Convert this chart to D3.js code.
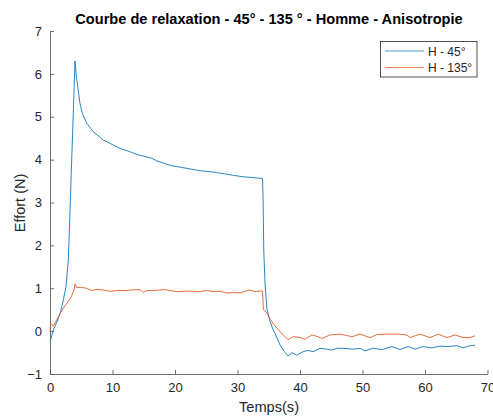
<!DOCTYPE html>
<html><head><meta charset="utf-8">
<script src="https://cdn.jsdelivr.net/npm/d3@7/dist/d3.min.js"></script>
<style>body{margin:0;background:#fff}svg{display:block}</style>
</head><body><svg id="c" width="493" height="417"></svg>
<script>
const title = "Courbe de relaxation - 45° - 135 ° - Homme - Anisotropie";
const xLabel = "Temps(s)";
const yLabel = "Effort (N)";
const seriesNames = ["H - 45°", "H - 135°"];
const xTicks = [0,10,20,30,40,50,60,70];
const yTicks = [-1,0,1,2,3,4,5,6,7];

const timeH45 = [0,0.16,0.53,1.0,1.33,1.7,2.13,2.56,2.93,3.2,3.47,3.75,4.0,4.2,4.37,4.8,5.17,5.87,6.93,8.5,10,11.2,12.5,13.9,15,16.3,17.1,18.5,19.7,21,22.9,24,25.6,27,28.3,29.5,30.9,32.5,34.0,34.1,34.2,34.4,34.7,35.2,35.7,36.0,36.8,37.5,38.1,38.7,39.5,40.5,41.3,42.1,43.2,44.2,45.1,46.0,46.9,48.4,49.6,50.4,51.7,53.1,54.7,56.0,57.3,58.4,59.7,61.1,62.4,63.7,65.1,66.1,67.2,68.0];
const effortH45 = [-0.2,-0.17,0.03,0.18,0.3,0.45,0.73,1.04,1.66,2.8,4.0,5.2,6.3,5.95,5.78,5.31,5.08,4.85,4.65,4.46,4.35,4.26,4.2,4.12,4.08,4.03,3.97,3.9,3.85,3.82,3.77,3.74,3.72,3.69,3.66,3.63,3.6,3.58,3.56,3.06,1.89,1.11,0.52,0.23,0.03,-0.05,-0.32,-0.48,-0.58,-0.5,-0.56,-0.48,-0.45,-0.48,-0.4,-0.42,-0.44,-0.4,-0.4,-0.42,-0.4,-0.46,-0.4,-0.43,-0.36,-0.43,-0.36,-0.42,-0.36,-0.39,-0.35,-0.36,-0.34,-0.39,-0.34,-0.33];

const timeH135 = [0,0.1,0.3,0.53,1.0,1.6,2.3,2.9,3.4,3.73,3.9,4.0,4.27,5.0,5.87,6.67,7.5,8.0,9.6,11,12.3,13.3,14.4,14.9,15.5,17,18.1,19.2,20.3,21.5,22.9,24,25,26.1,27.2,28.3,29.5,30.4,31.5,32,32.8,33.6,34.0,34.15,34.4,34.7,35.2,35.8,36.3,37.3,38.1,38.9,40,40.8,41.9,42.7,43.5,44.8,46.4,47.4,48.3,49.6,51.2,52.3,53.9,55.7,57.1,57.6,59.2,60.8,62.1,63.5,64.8,66.1,67.2,68.0];
const effortH135 = [-0.01,0.18,0.15,0.12,0.24,0.41,0.57,0.69,0.8,0.92,0.98,1.1,1.02,1.02,1.0,0.95,0.97,0.97,0.93,0.95,0.95,0.96,0.97,0.9,0.95,0.95,0.97,0.95,0.92,0.93,0.93,0.92,0.95,0.92,0.93,0.89,0.9,0.89,0.94,0.96,0.92,0.94,0.93,0.5,0.47,0.43,0.28,0.16,0.07,-0.09,-0.2,-0.13,-0.15,-0.19,-0.09,-0.12,-0.17,-0.09,-0.07,-0.1,-0.13,-0.07,-0.15,-0.08,-0.07,-0.07,-0.09,-0.15,-0.07,-0.15,-0.07,-0.15,-0.09,-0.15,-0.15,-0.11];

const colors = ["#0072BD", "#D95319"];

const svg = d3.select("#c");
const font = "'Liberation Sans', Arial, Helvetica, sans-serif";
const x = d3.scaleLinear().domain([0,70]).range([50,487.5]);
const y = d3.scaleLinear().domain([-1,7]).range([374,31]);
const axisColor = "#262626";

const gx = svg.append("g").attr("transform","translate(0,374)")
  .call(d3.axisBottom(x).tickValues(xTicks).tickSizeInner(-4).tickSizeOuter(0).tickPadding(9));
const gy = svg.append("g").attr("transform","translate(50,0)")
  .call(d3.axisLeft(y).tickValues(yTicks).tickSizeInner(-4).tickSizeOuter(0).tickPadding(8));
[gx,gy].forEach(g=>{
  g.selectAll("path,line").attr("stroke","#4d4d4d").attr("stroke-width",0.8);
  g.selectAll("text").attr("fill",axisColor).attr("font-family",font).attr("font-size",13);
});

const line = d3.line().x(d=>x(d[0])).y(d=>y(d[1]));
const s1 = timeH45.map((t,i)=>[t,effortH45[i]]);
const s2 = timeH135.map((t,i)=>[t,effortH135[i]]);
[s1,s2].forEach((s,i)=>{
  svg.append("path").datum(s).attr("d",line).attr("fill","none")
    .attr("stroke",colors[i]).attr("stroke-width",1).attr("stroke-opacity",0.85).attr("stroke-linejoin","round");
});

svg.append("text").attr("x",269).attr("y",24).attr("text-anchor","middle")
  .attr("font-family",font).attr("font-weight","bold").attr("font-size",14.6).attr("fill","#000").text(title);
svg.append("text").attr("x",269).attr("y",412).attr("text-anchor","middle")
  .attr("font-family",font).attr("font-size",14.6).attr("fill",axisColor).text(xLabel);
svg.append("text").attr("transform","translate(25,203) rotate(-90)").attr("text-anchor","middle")
  .attr("font-family",font).attr("font-size",14.5).attr("fill",axisColor).text(yLabel);

const lg = svg.append("g");
lg.append("rect").attr("x",380.5).attr("y",41.5).attr("width",96.5).attr("height",35.5)
  .attr("fill","#fff").attr("stroke","#262626").attr("stroke-width",0.8);
seriesNames.forEach((n,i)=>{
  const yy = 51 + i*16.5;
  lg.append("line").attr("x1",385).attr("x2",424).attr("y1",yy).attr("y2",yy)
    .attr("stroke",colors[i]).attr("stroke-width",1).attr("stroke-opacity",0.7);
  lg.append("text").attr("x",428).attr("y",yy+4.5).attr("font-family",font).attr("font-size",12)
    .attr("fill",axisColor).text(n);
});
</script></body></html>
